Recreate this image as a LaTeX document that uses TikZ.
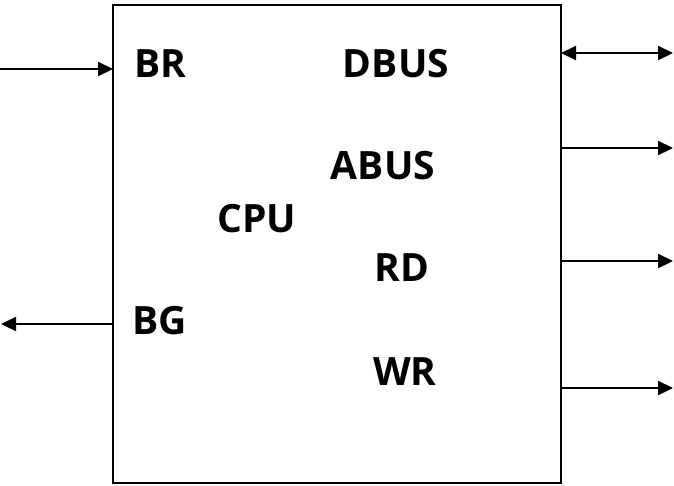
\documentclass[tikz,border=0pt]{standalone}
\usepackage{fontspec}
\setmainfont{Open Sans}
\usetikzlibrary{arrows.meta}
\begin{document}
\begin{tikzpicture}[x=1pt,y=-1pt,
  sig/.style={font=\fontsize{39}{42}\selectfont\bfseries, inner sep=0pt, anchor=center},
  wire/.style={line width=2.2pt, -{Triangle[length=15pt,width=14pt]}},
  bidir/.style={line width=2.2pt, {Triangle[length=15pt,width=14pt]}-{Triangle[length=15pt,width=14pt]}}]
  \useasboundingbox (0,0) rectangle (674,485);
  % CPU block
  \draw[line width=2.2pt] (113,5) rectangle (561,483);
  % signal labels
  \node[sig] (br) at (160,64) {BR};
  \node[sig] (dbus) at (396,64) {DBUS};
  \node[sig] (abus) at (383,166) {ABUS};
  \node[sig] (cpu) at (257,219) {CPU};
  \node[sig] (rd) at (402,268) {RD};
  \node[sig] (bg) at (160,321) {BG};
  \node[sig] (wr) at (405,372) {WR};
  % port end points
  \coordinate (brIn) at (0,69);
  \coordinate (brPin) at (113,69);
  \coordinate (dPin) at (561,53);
  \coordinate (dOut) at (673,53);
  \coordinate (aPin) at (561,148);
  \coordinate (aOut) at (673,148);
  \coordinate (rPin) at (561,261);
  \coordinate (rOut) at (673,261);
  \coordinate (wPin) at (561,388);
  \coordinate (wOut) at (673,388);
  \coordinate (gPin) at (113,324);
  \coordinate (gOut) at (1,324);
  % connectors
  \draw[wire] (brIn) -- (brPin);
  \draw[bidir] (dPin) -- (dOut);
  \draw[wire] (aPin) -- (aOut);
  \draw[wire] (rPin) -- (rOut);
  \draw[wire] (wPin) -- (wOut);
  \draw[wire] (gPin) -- (gOut);
\end{tikzpicture}
\end{document}
